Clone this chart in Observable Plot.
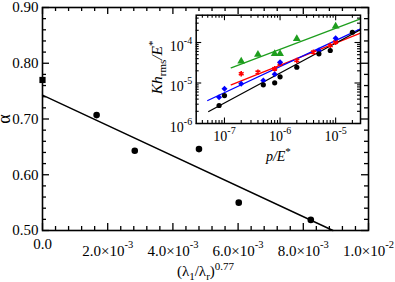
<!DOCTYPE html>
<html><head><meta charset="utf-8">
<script src="https://cdn.jsdelivr.net/npm/d3@7"></script>
<script src="https://cdn.jsdelivr.net/npm/@observablehq/plot@0.6"></script>
<style>
body{margin:0;background:#fff}
#wrap{position:relative;width:395px;height:282px;overflow:hidden}
#wrap svg{position:absolute;overflow:visible}
</style></head><body><div id="wrap"></div>
<script>
// ---------- main chart data ----------
const circleX = [0.00166, 0.00283, 0.00480, 0.00602, 0.00823];
const circleY = [0.707, 0.643, 0.646, 0.550, 0.519];
const squareX = [0];
const squareY = [0.770];
const fitX = [0, 0.00891];
const fitY = [0.743, 0.500];
const xTicks = [0, 0.002, 0.004, 0.006, 0.008, 0.010];
const xTickLabels = ["0.0", "2.0×10^{-3}", "4.0×10^{-3}", "6.0×10^{-3}", "8.0×10^{-3}", "1.0×10^{-2}"];
const yTicks = [0.5, 0.6, 0.7, 0.8, 0.9];
const yTickLabels = ["0.50", "0.60", "0.70", "0.80", "0.90"];
const xLabel = "(λ_{1}/λ_{r})^{0.77}";
const yLabel = "α";

// ---------- inset data ----------
const blackP = [8e-8, 1e-7, 5e-7, 8e-7, 1e-6, 2e-6, 5e-6, 8e-6, 2e-5];
const blackK = [2.78e-6, 4.9e-6, 9.0e-6, 1.01e-5, 1.42e-5, 2.45e-5, 5.26e-5, 6.34e-5, 1.79e-4];
const blueP = [8e-8, 1e-7, 2e-7, 5e-7, 8e-7, 1e-6, 5e-6, 1e-5];
const blueK = [4.46e-6, 7.2e-6, 9.55e-6, 1.15e-5, 1.65e-5, 3.26e-5, 6.34e-5, 1.28e-4];
const redP = [2e-7, 4e-7, 8e-7, 1e-6, 2e-6, 4e-6, 8e-6, 1e-5];
const redK = [1.69e-5, 1.85e-5, 2.24e-5, 2.98e-5, 3.6e-5, 5.76e-5, 8.43e-5, 1.02e-4];
const greenP = [2e-7, 4e-7, 8e-7, 1e-6, 2e-6, 1e-5];
const greenK = [3.45e-5, 5.06e-5, 5.26e-5, 5.26e-5, 1.23e-4, 2.52e-4];
const blackFitP = [5.2e-8, 2.8e-5], blackFitK = [1.98e-6, 2.06e-4];
const blueFitP = [5.0e-8, 2.8e-5], blueFitK = [3.7e-6, 2.18e-4];
const redFitP = [1.32e-7, 2.8e-5], redFitK = [9.0e-6, 1.7e-4];
const greenFitP = [1.32e-7, 2.8e-5], greenFitK = [2.37e-5, 3.85e-4];
const insetXTicks = [1e-7, 1e-6, 1e-5];
const insetXTickLabels = ["10^{-7}", "10^{-6}", "10^{-5}"];
const insetYTicks = [1e-6, 1e-5, 1e-4];
const insetYTickLabels = ["10^{-6}", "10^{-5}", "10^{-4}"];
const insetXLabel = "p/E^{*}";
const insetYLabel = "Kh_{rms}/E^{*}";

const GREEN = "#1e9e1e";
const FONT = "Liberation Serif";
const pts = (xs, ys) => xs.map((x, i) => ({x, y: ys[i]}));

// rich text: ^{..} superscript, _{..} subscript
function rich(t, str, o) {
  const ns = "http://www.w3.org/2000/svg";
  const parts = str.split(/(\^\{[^}]*\}|_\{[^}]*\})/).filter(s => s.length);
  while (t.firstChild) t.removeChild(t.firstChild);
  let cur = 0;
  const base = o.shift || 0;
  for (const p of parts) {
    let txt = p, off = base, small = false;
    if (p.startsWith("^{")) { txt = p.slice(2, -1); off = base - o.sup; small = true; }
    else if (p.startsWith("_{")) { txt = p.slice(2, -1); off = base + o.sub; small = true; }
    const ts = document.createElementNS(ns, "tspan");
    ts.textContent = txt;
    if (off !== cur) ts.setAttribute("dy", off - cur);
    cur = off;
    if (small) { ts.setAttribute("font-size", o.small); if (o.upright) ts.setAttribute("font-style", "normal"); }
    t.appendChild(ts);
  }
}
function richAll(svg, selector, o) {
  svg.querySelectorAll(selector).forEach(t => {
    const s = t.textContent;
    if (s.includes("^{") || s.includes("_{")) rich(t, s, o);
  });
}

// ---------- main plot ----------
const W = 395, H = 282, mL = 42, mR = 27, mT = 7, mB = 52;
const iW = W - mL - mR, iH = H - mT - mB;
const xMinor = d3.range(0, 0.01001, 0.0004).filter(v => Math.abs(v / 0.002 - Math.round(v / 0.002)) > 1e-6);
const yMinor = d3.range(0.5, 0.9001, 0.02).filter(v => Math.abs(v / 0.1 - Math.round(v / 0.1)) > 1e-6);
const xLab = new Map(xTicks.map((d, i) => [d, xTickLabels[i]]));
const yLab = new Map(yTicks.map((d, i) => [d, yTickLabels[i]]));
const tk = {stroke: "#000", strokeWidth: 1.3};

const main = Plot.plot({
  width: W, height: H, marginLeft: mL, marginRight: mR, marginTop: mT, marginBottom: mB,
  style: {fontFamily: FONT, fontSize: "15px", background: "transparent", color: "#000"},
  x: {domain: [0, 0.01], axis: null},
  y: {domain: [0.5, 0.9], axis: null},
  marks: [
    Plot.tickX(xMinor, {x: d => d, insetTop: iH - 4, ...tk}),
    Plot.tickX(xMinor, {x: d => d, insetBottom: iH - 4, ...tk}),
    Plot.tickX(xTicks, {x: d => d, insetTop: iH - 7, ...tk}),
    Plot.tickX(xTicks, {x: d => d, insetBottom: iH - 7, ...tk}),
    Plot.tickY(yMinor, {y: d => d, insetRight: iW - 4, ...tk}),
    Plot.tickY(yMinor, {y: d => d, insetLeft: iW - 4, ...tk}),
    Plot.tickY(yTicks, {y: d => d, insetRight: iW - 7, ...tk}),
    Plot.tickY(yTicks, {y: d => d, insetLeft: iW - 7, ...tk}),
    Plot.axisX(xTicks, {anchor: "bottom", tickSize: 0, tickPadding: 8, tickFormat: d => xLab.get(d), label: null, fontSize: 15}),
    Plot.axisY(yTicks, {anchor: "left", tickSize: 0, tickPadding: 4, tickFormat: d => yLab.get(d), label: null, fontSize: 15}),
    Plot.line(pts(fitX, fitY), {x: "x", y: "y", stroke: "#000", strokeWidth: 1.4}),
    Plot.dot(pts(circleX, circleY), {x: "x", y: "y", r: 3.3, fill: "#000", stroke: "none"}),
    Plot.dot(pts(squareX, squareY), {x: "x", y: "y", r: 3.5, symbol: "square", fill: "#000", stroke: "none"}),
    Plot.frame({stroke: "#000", strokeWidth: 1.6}),
    Plot.text([xLabel], {text: d => d, frameAnchor: "bottom", textAnchor: "middle", dy: 45, lineAnchor: "bottom", fontSize: 15}),
    Plot.text([yLabel], {text: d => d, frameAnchor: "left", textAnchor: "middle", dx: -32.5, rotate: -90, lineAnchor: "bottom", fontSize: 18})
  ]
});
main.style.left = "0px"; main.style.top = "0px";
richAll(main, 'g[aria-label="x-axis tick label"] text', {shift: 7, sup: 8.5, sub: 0, small: "10.5px"});
richAll(main, 'g[aria-label="text"] text', {shift: 0, sup: 6, sub: 4, small: "11px"});

// ---------- inset plot ----------
const IW = 250, IH = 170, iLeft = 120, iTop = 0;
const imL = 75.7, imR = 10, imT = 14.7, imB = 47;
const iiW = IW - imL - imR, iiH = IH - imT - imB;
const pMinor = [], kMinor = [];
for (const dec of [1e-8, 1e-7, 1e-6, 1e-5]) for (let m = 2; m <= 9; m++) { const v = m * dec; if (v > 3.1e-8 && v < 2.8e-5) pMinor.push(v); }
for (const dec of [1e-6, 1e-5, 1e-4]) for (let m = 2; m <= 9; m++) { const v = m * dec; if (v < 4.72e-4) kMinor.push(v); }
const ixLab = new Map(insetXTicks.map((d, i) => [d, insetXTickLabels[i]]));
const iyLab = new Map(insetYTicks.map((d, i) => [d, insetYTickLabels[i]]));
const itk = {stroke: "#000", strokeWidth: 1.1};

const inset = Plot.plot({
  width: IW, height: IH, marginLeft: imL, marginRight: imR, marginTop: imT, marginBottom: imB,
  style: {fontFamily: FONT, fontSize: "14px", background: "transparent", color: "#000"},
  x: {type: "log", domain: [3.1e-8, 2.8e-5], axis: null},
  y: {type: "log", domain: [1e-6, 4.72e-4], axis: null},
  marks: [
    Plot.tickX(pMinor, {x: d => d, insetTop: iiH - 3, ...itk}),
    Plot.tickX(pMinor, {x: d => d, insetBottom: iiH - 3, ...itk}),
    Plot.tickX(insetXTicks, {x: d => d, insetTop: iiH - 5.5, ...itk}),
    Plot.tickX(insetXTicks, {x: d => d, insetBottom: iiH - 5.5, ...itk}),
    Plot.tickY(kMinor, {y: d => d, insetRight: iiW - 3, ...itk}),
    Plot.tickY(kMinor, {y: d => d, insetLeft: iiW - 3, ...itk}),
    Plot.tickY(insetYTicks, {y: d => d, insetRight: iiW - 5.5, ...itk}),
    Plot.tickY(insetYTicks, {y: d => d, insetLeft: iiW - 5.5, ...itk}),
    Plot.axisX(insetXTicks, {anchor: "bottom", tickSize: 0, tickPadding: 8, tickFormat: d => ixLab.get(d), label: null, fontSize: 14}),
    Plot.axisY(insetYTicks, {anchor: "left", tickSize: 0, tickPadding: 4, tickFormat: d => iyLab.get(d), label: null, fontSize: 14}),
    Plot.line(pts(greenFitP, greenFitK), {x: "x", y: "y", stroke: GREEN, strokeWidth: 1.3}),
    Plot.line(pts(redFitP, redFitK), {x: "x", y: "y", stroke: "#ff0000", strokeWidth: 1.3}),
    Plot.line(pts(blueFitP, blueFitK), {x: "x", y: "y", stroke: "#0000ff", strokeWidth: 1.3}),
    Plot.line(pts(blackFitP, blackFitK), {x: "x", y: "y", stroke: "#000", strokeWidth: 1.3}),
    Plot.dot(pts(greenP, greenK), {x: "x", y: "y", symbol: "triangle", r: 2.9, fill: GREEN, stroke: "none"}),
    Plot.dot(pts(redP, redK), {x: "x", y: "y", symbol: "asterisk", r: 2.6, stroke: "#ff0000", strokeWidth: 1.6}),
    Plot.dot(pts(blueP, blueK), {x: "x", y: "y", symbol: "diamond2", r: 2.7, fill: "#0000ff", stroke: "none"}),
    Plot.dot(pts(blackP, blackK), {x: "x", y: "y", r: 2.6, fill: "#000", stroke: "none"}),
    Plot.frame({stroke: "#000", strokeWidth: 1.5}),
    Plot.text([insetXLabel], {text: d => d, frameAnchor: "bottom", textAnchor: "middle", dy: 37, lineAnchor: "bottom", fontSize: 14, fontStyle: "italic"}),
    Plot.text([insetYLabel], {text: d => d, frameAnchor: "left", textAnchor: "middle", dx: -34.7, dy: -2, rotate: -90, lineAnchor: "bottom", fontSize: 15.5, fontStyle: "italic"})
  ]
});
inset.style.left = iLeft + "px"; inset.style.top = iTop + "px";
richAll(inset, 'g[aria-label="x-axis tick label"] text', {shift: 0, sup: 7, sub: 0, small: "10px"});
richAll(inset, 'g[aria-label="y-axis tick label"] text', {shift: 4, sup: 7, sub: 0, small: "10px"});
richAll(inset, 'g[aria-label="text"] text', {shift: 0, sup: 6, sub: 4, small: "11px", upright: true});

const wrap = document.getElementById("wrap");
wrap.appendChild(main);
wrap.appendChild(inset);
</script>
</body></html>
